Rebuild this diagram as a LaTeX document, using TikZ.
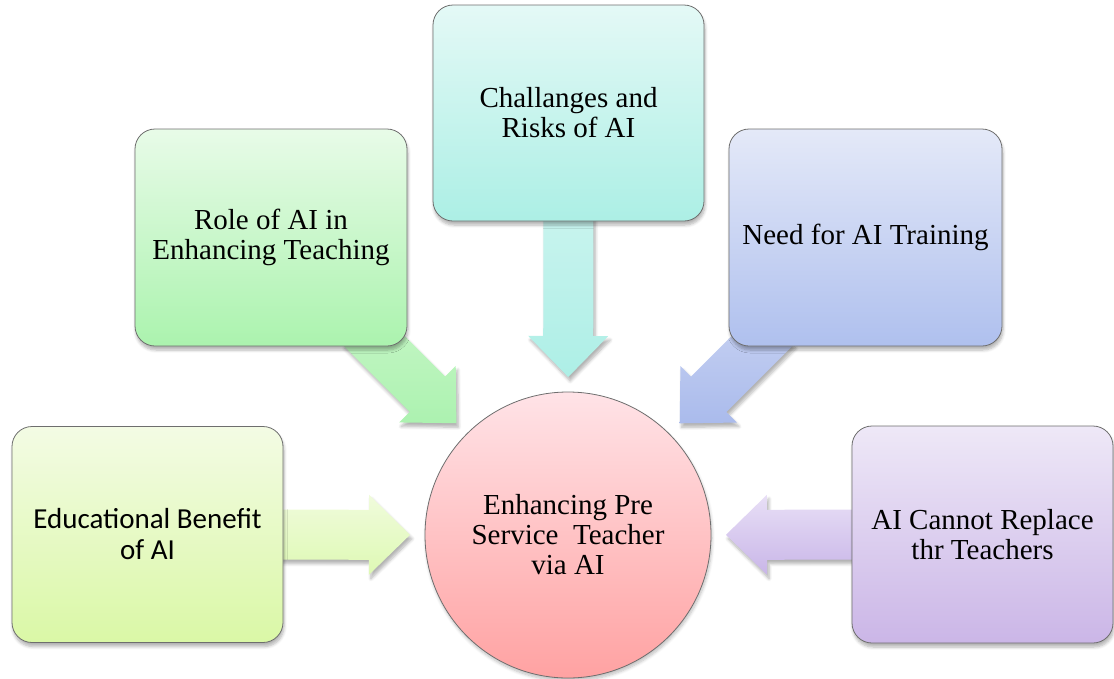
\documentclass[tikz,border=0pt]{standalone}
\usepackage{fontspec}
\setmainfont{Liberation Serif}
\newfontfamily\calibrifont{Carlito}
\usetikzlibrary{calc,shadows,shadows.blur}

% box and arrow colours (top / bottom of each gradient)
\definecolor{eduTop}{HTML}{F3FBE4}
\definecolor{eduBot}{HTML}{DAF8A6}
\definecolor{roleTop}{HTML}{E8FBE8}
\definecolor{roleBot}{HTML}{ABF3AE}
\definecolor{chalTop}{HTML}{E4F9F6}
\definecolor{chalBot}{HTML}{ACEFE5}
\definecolor{needTop}{HTML}{E4E9F8}
\definecolor{needBot}{HTML}{AFC0EE}
\definecolor{replTop}{HTML}{EEE8F7}
\definecolor{replBot}{HTML}{CBB6E7}
\definecolor{circTop}{HTML}{FFE3E7}
\definecolor{circBot}{HTML}{FFA2A2}
\definecolor{eduArTop}{HTML}{F0FBDC}
\definecolor{eduArBot}{HTML}{DEF9B4}
\definecolor{roleArTop}{HTML}{C6F6C6}
\definecolor{roleArBot}{HTML}{ACF2B0}
\definecolor{chalArTop}{HTML}{CBF4EF}
\definecolor{chalArBot}{HTML}{ADEFE6}
\definecolor{needArTop}{HTML}{C8D2F2}
\definecolor{needArBot}{HTML}{AABBEC}
\definecolor{replArTop}{HTML}{E8DFF6}
\definecolor{replArBot}{HTML}{C9B6E8}
\definecolor{edgeGray}{HTML}{6E6E6E}

\tikzset{
  topicbox/.style={draw=edgeGray, line width=0.8pt, rounded corners=20pt,
    align=center, inner sep=0pt, font=\fontsize{29}{30}\selectfont,
    blur shadow={shadow xshift=1pt, shadow yshift=-4pt, shadow blur steps=6,
      shadow blur radius=3pt, shadow opacity=30}},
  hubcircle/.style={circle, draw=edgeGray, line width=0.8pt, align=center,
    inner sep=0pt, minimum size=286pt, font=\fontsize{29}{30}\selectfont,
    top color=circTop, bottom color=circBot,
    blur shadow={shadow xshift=1pt, shadow yshift=-3pt, shadow blur steps=6,
      shadow blur radius=3pt, shadow opacity=25}},
  fatarrow/.style={
    blur shadow={shadow xshift=2pt, shadow yshift=-4pt, shadow blur steps=6,
      shadow blur radius=3pt, shadow opacity=30}}
}

% broad block arrow from #1 to the tip #2, gradient #3 -> #4
\newcommand\fatarrow[4]{%
  \coordinate (#1h) at ($(#2)!41pt!(#1)$);
  \path[fatarrow, top color=#3, bottom color=#4]
    ($(#1)!25pt!90:(#2)$) -- ($(#1h)!25pt!90:(#2)$) -- ($(#1h)!40pt!90:(#2)$)
    -- (#2) -- ($(#1h)!40pt!-90:(#2)$) -- ($(#1h)!25pt!-90:(#2)$)
    -- ($(#1)!25pt!-90:(#2)$) -- cycle;
}

\begin{document}
\begin{tikzpicture}[x=1pt, y=-1pt]
  \useasboundingbox (0,0) rectangle (1114,678);

  % node positions (the boxes are drawn after the arrows so they cover the tails)
  \coordinate (eduC)  at (147.5,534.5);
  \coordinate (roleC) at (271,237.5);
  \coordinate (chalC) at (568.5,115);
  \coordinate (needC) at (865.5,237.5);
  \coordinate (replC) at (982.5,534.5);
  \coordinate (circC) at (568,535);

  % arrow tails and tips
  \coordinate (eduS)  at ($(eduC)!0.25!(circC)$);
  \coordinate (eduT)  at ($(circC)!158pt!(eduC)$);
  \coordinate (roleS) at ($(roleC)!0.3!(circC)$);
  \coordinate (roleT) at ($(circC)!158pt!(roleC)$);
  \coordinate (chalS) at ($(chalC)!0.2!(circC)$);
  \coordinate (chalT) at ($(circC)!158pt!(chalC)$);
  \coordinate (needS) at ($(needC)!0.3!(circC)$);
  \coordinate (needT) at ($(circC)!158pt!(needC)$);
  \coordinate (replS) at ($(replC)!0.25!(circC)$);
  \coordinate (replT) at ($(circC)!158pt!(replC)$);

  \fatarrow{eduS}{eduT}{eduArTop}{eduArBot}
  \fatarrow{roleS}{roleT}{roleArTop}{roleArBot}
  \fatarrow{chalS}{chalT}{chalArTop}{chalArBot}
  \fatarrow{needS}{needT}{needArTop}{needArBot}
  \fatarrow{replS}{replT}{replArTop}{replArBot}

  \node[topicbox, minimum width=271pt, minimum height=216pt,
        top color=eduTop, bottom color=eduBot, font=\calibrifont\fontsize{29}{31}\selectfont]
    (edu) at (eduC) {Educational Benefit\\of AI};
  \node[topicbox, minimum width=272pt, minimum height=217pt,
        top color=roleTop, bottom color=roleBot]
    (role) at (roleC) {Role of AI in\\Enhancing Teaching};
  \node[topicbox, minimum width=271pt, minimum height=216pt,
        top color=chalTop, bottom color=chalBot]
    (chal) at ($(chalC)+(0,-2)$) {Challanges and\\Risks of AI};
  \node[topicbox, minimum width=273pt, minimum height=217pt,
        top color=needTop, bottom color=needBot]
    (need) at (needC) {Need for AI Training};
  \node[topicbox, minimum width=261pt, minimum height=217pt,
        top color=replTop, bottom color=replBot]
    (repl) at (replC) {AI Cannot Replace\\thr Teachers};

  \node[hubcircle] (circ) at (circC) {Enhancing Pre\\Service\ \ Teacher\\via AI};
\end{tikzpicture}
\end{document}
